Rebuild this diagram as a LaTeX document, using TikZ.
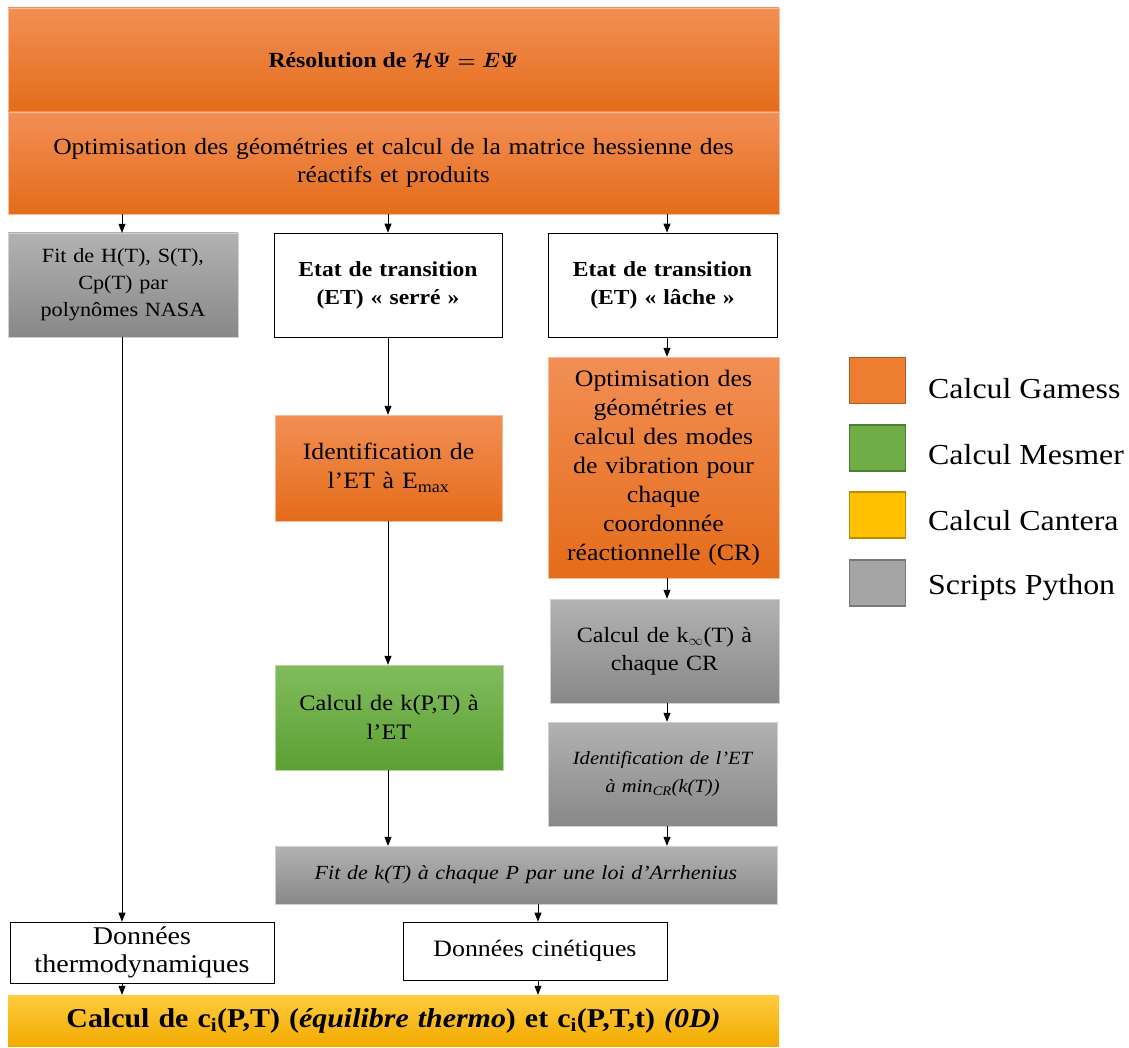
\documentclass[tikz,border=0pt]{standalone}
\usepackage{fontspec}
\setmainfont{Liberation Serif}[FakeStretch=1.1]
\usetikzlibrary{arrows.meta}
\newcommand{\myfs}[2]{\fontsize{#1}{#2}\selectfont}
\definecolor{orTop}{RGB}{242,143,85}
\definecolor{orBot}{RGB}{228,108,26}
\definecolor{grTop}{RGB}{128,188,92}
\definecolor{grBot}{RGB}{92,160,52}
\definecolor{gyTop}{RGB}{178,178,178}
\definecolor{gyBot}{RGB}{136,136,136}
\definecolor{yeTop}{RGB}{255,204,64}
\definecolor{yeBot}{RGB}{242,170,0}
\definecolor{legOr}{RGB}{237,125,49}
\definecolor{legOrB}{RGB}{174,90,33}
\definecolor{legGr}{RGB}{112,173,71}
\definecolor{legGrB}{RGB}{80,126,50}
\definecolor{legYe}{RGB}{255,192,0}
\definecolor{legYeB}{RGB}{188,140,0}
\definecolor{legGy}{RGB}{165,165,165}
\definecolor{legGyB}{RGB}{120,120,120}
\tikzset{
  base/.style={inner sep=0pt, align=center, text=black},
  orbox/.style={base, top color=orTop, bottom color=orBot, draw=orTop!60!white, line width=0.4pt},
  grbox/.style={base, top color=grTop, bottom color=grBot, draw=grTop!60!white, line width=0.4pt},
  gybox/.style={base, top color=gyTop, bottom color=gyBot, draw=gyTop!60!white, line width=0.4pt},
  yebox/.style={base, top color=yeTop, bottom color=yeBot, draw=none},
  whbox/.style={base, fill=white, draw=black, line width=0.7pt},
  arr/.style={draw=black, line width=0.8pt, -{Triangle[width=7pt,length=9pt]}},
  legsq/.style={minimum width=56, minimum height=46, line width=1.6pt, inner sep=0pt},
  legtxt/.style={anchor=west, inner sep=0pt, font=\myfs{29}{32}},
}
\begin{document}
\begin{tikzpicture}[x=1pt,y=-1pt]
\useasboundingbox (0,0) rectangle (1129,1048);
\fill[white] (0,0) rectangle (1129,1048);

% top boxes
\node[orbox, minimum width=771, minimum height=104, font={\myfs{21.6}{25}\bfseries}] (top1) at (393.5,60)
  {Résolution de {\boldmath$\mathcal{H}\Psi = E\Psi$}};
\node[orbox, minimum width=771, minimum height=102, text width=740, font={\myfs{23.2}{28}}] (top2) at (393.5,163)
  {\raisebox{0pt}[0pt][0pt]{}Optimisation des géométries et calcul de la matrice hessienne des\\ réactifs et produits};

% row 2
\node[gybox, minimum width=230, minimum height=104, text width=225, font={\myfs{20.2}{27}}] (fitH) at (123,285)
  {Fit de H(T), S(T),\\ Cp(T) par\\ polynômes NASA};
\node[whbox, minimum width=228, minimum height=104, text width=225, font={\myfs{21.4}{28}\bfseries}] (serre) at (388,285)
  {Etat de transition\\ (ET) « serré »};
\node[whbox, minimum width=229, minimum height=104, text width=225, font={\myfs{21.4}{28}\bfseries}] (lache) at (662.5,285)
  {Etat de transition\\ (ET) « lâche »};

% middle column
\node[orbox, minimum width=227, minimum height=106, text width=225, font={\myfs{23.5}{29}}] (idE) at (388.5,468)
  {Identification de\\ l'ET à E\textsubscript{max}};
\node[grbox, minimum width=228, minimum height=105, text width=225, font={\myfs{22.1}{29}}] (kPT) at (389,717.5)
  {Calcul de k(P,T) à\\ l'ET};

% right column
\node[orbox, minimum width=231, minimum height=221, text width=228, font={\myfs{23.5}{29}}] (opt) at (663.5,467.5)
  {Optimisation des\\ géométries et\\ calcul des modes\\ de vibration pour\\ chaque\\ coordonnée\\ réactionnelle (CR)};
\node[gybox, minimum width=229, minimum height=104, text width=225, font={\myfs{21.8}{28}}] (kinf) at (664.5,651)
  {Calcul de k$_\infty$(T) à\\ chaque CR};
\node[gybox, minimum width=229, minimum height=104, text width=225, font={\myfs{18.7}{28}\itshape}] (idmin) at (662.5,774)
  {Identification de l'ET\\ à min\textsubscript{CR}(k(T))};

% fit k
\node[gybox, minimum width=502, minimum height=58, text width=495, font={\myfs{20}{25}\itshape}] (fitk) at (526,875)
  {Fit de k(T) à chaque P par une loi d'Arrhenius};

% data boxes
\node[whbox, minimum width=264, minimum height=61, text width=260, font={\myfs{25.5}{28}}] (thermo) at (142,952.5)
  {Données\\ thermodynamiques};
\node[whbox, minimum width=264, minimum height=58, text width=260, font={\myfs{23.5}{28}}] (cin) at (535,951)
  {Données cinétiques};

% bottom bar
\node[yebox, minimum width=771, minimum height=51, text width=765, font={\myfs{27.2}{32}\bfseries}] (calc) at (393.5,1020.5)
  {Calcul de c\textsubscript{i}(P,T) (\textit{équilibre thermo}) et c\textsubscript{i}(P,T,t) \textit{(0D)}};

% column coordinates
\coordinate (cl) at (122,0);
\coordinate (cm) at (388,0);
\coordinate (cr) at (667,0);
\coordinate (ck) at (538,0);

% arrows
\draw[arr] (top2.south -| cl) -- (fitH.north -| cl);
\draw[arr] (top2.south -| cm) -- (serre.north -| cm);
\draw[arr] (top2.south -| cr) -- (lache.north -| cr);
\draw[arr] (fitH.south -| cl) -- (thermo.north -| cl);
\draw[arr] (serre.south -| cm) -- (idE.north -| cm);
\draw[arr] (idE.south -| cm) -- (kPT.north -| cm);
\draw[arr] (kPT.south -| cm) -- (fitk.north -| cm);
\draw[arr] (lache.south -| cr) -- (opt.north -| cr);
\draw[arr] (opt.south -| cr) -- (kinf.north -| cr);
\draw[arr] (kinf.south -| cr) -- (idmin.north -| cr);
\draw[arr] (idmin.south -| cr) -- (fitk.north -| cr);
\draw[arr] (fitk.south -| ck) -- (cin.north -| ck);
\draw[arr] (thermo.south -| cl) -- (calc.north -| cl);
\draw[arr] (cin.south -| ck) -- (calc.north -| ck);

% legend
\node[legsq, fill=legOr, draw=legOrB] (lg1) at (877.5,380.5) {};
\node[legsq, fill=legGr, draw=legGrB] (lg2) at (877.5,448) {};
\node[legsq, fill=legYe, draw=legYeB] (lg3) at (877.5,515) {};
\node[legsq, fill=legGy, draw=legGyB] (lg4) at (877.5,583) {};
\node[legtxt] (lt1) at (928,389) {Calcul Gamess};
\node[legtxt] (lt2) at (928,455) {Calcul Mesmer};
\node[legtxt] (lt3) at (928,521) {Calcul Cantera};
\node[legtxt] (lt4) at (928,588) {Scripts Python};
\end{tikzpicture}
\end{document}
